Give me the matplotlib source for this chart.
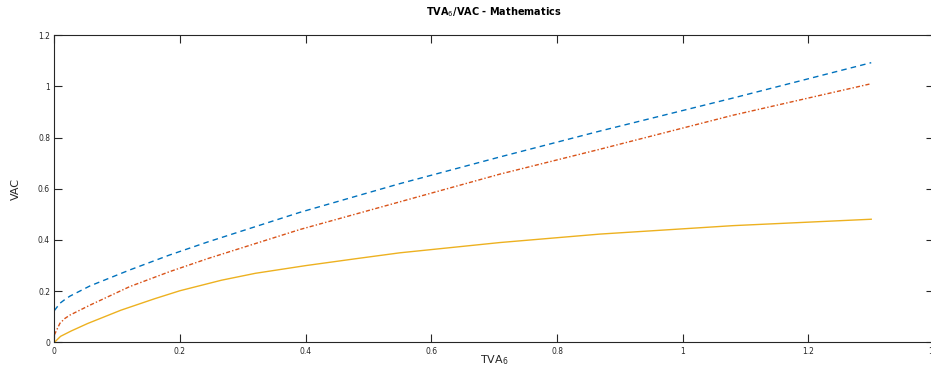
import matplotlib.pyplot as plt

# pontos (TVA6 vs VAC)
x_pts = [0, 0.009, 0.017, 0.025, 0.057, 0.12, 0.183, 0.245, 0.391, 0.55, 0.709, 0.868, 1.08, 1.3]
vac_azul = [0.124, 0.153, 0.168, 0.181, 0.221, 0.283, 0.341, 0.393, 0.508, 0.620, 0.724, 0.825, 0.954, 1.092]
vac_verm = [0.029, 0.075, 0.094, 0.107, 0.146, 0.218, 0.276, 0.328, 0.441, 0.549, 0.657, 0.754, 0.887, 1.010]

x_amar = [0, 0.01, 0.027, 0.053, 0.106, 0.16, 0.2, 0.266, 0.32, 0.4, 0.48, 0.55, 0.709, 0.868, 1.08, 1.3]
vac_amar = [0.0, 0.024, 0.045, 0.074, 0.126, 0.171, 0.202, 0.243, 0.270, 0.300, 0.327, 0.350, 0.390, 0.423, 0.456, 0.481]

x_ticks = [0, 0.2, 0.4, 0.6, 0.8, 1, 1.2, 1.4]
x_tick_labels = ['0', '0.2', '0.4', '0.6', '0.8', '1', '1.2', '1.4']
y_ticks = [0, 0.2, 0.4, 0.6, 0.8, 1, 1.2]
y_tick_labels = ['0', '0.2', '0.4', '0.6', '0.8', '1', '1.2']

fig = plt.figure(figsize=(9.31, 3.67), dpi=100)
ax = fig.add_axes([0.0583, 0.0668, 0.945, 0.8378])

ax.plot(x_pts, vac_azul, color='#0072BD', linestyle=(0, (4, 3)), linewidth=1.0)
ax.plot(x_pts, vac_verm, color='#D95319', linestyle=(0, (3, 1.5, 1, 1.5)), linewidth=1.0)
ax.plot(x_amar, vac_amar, color='#EDB120', linestyle='-', linewidth=1.0)

ax.set_xlim(0, 1.4)
ax.set_ylim(0, 1.2)
ax.set_xticks(x_ticks)
ax.set_xticklabels(x_tick_labels)
ax.set_yticks(y_ticks)
ax.set_yticklabels(y_tick_labels)

cinza = '#262626'
for s in ax.spines.values():
    s.set_color(cinza)
    s.set_linewidth(0.8)
ax.tick_params(direction='in', length=6, width=0.8, color=cinza, labelcolor=cinza,
               labelsize=5.5, top=True, right=True, pad=3)

ax.set_title('TVA$_6$/VAC - Mathematics', fontsize=7, fontweight='bold', pad=14)
ax.set_xlabel('TVA$_6$', fontsize=8, color=cinza, labelpad=-2)
ax.set_ylabel('VAC', fontsize=8, color=cinza, labelpad=12)

fig.savefig('out.png', dpi=100)
